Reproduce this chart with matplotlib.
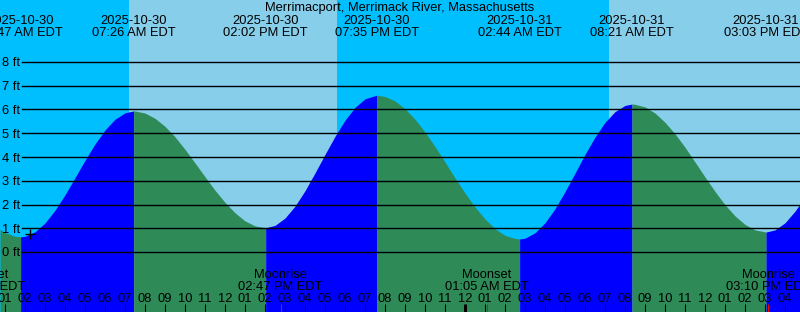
import numpy as np
import matplotlib
matplotlib.use('Agg')
import matplotlib.pyplot as plt

# hours since 2025-10-30 00:00 EDT, tide height in ft
tide_hours = np.array([
    0.75, 1.0, 1.5, 1.783, 2.0, 2.5, 3.0, 3.5, 4.0, 4.5, 5.0, 5.5, 6.0, 6.5, 7.0,
    7.433, 7.5, 8.0, 8.5, 9.0, 9.5, 10.0, 10.5, 11.0, 11.5, 12.0, 12.5, 13.0, 13.5,
    14.033, 14.5, 15.0, 15.5, 16.0, 16.5, 17.0, 17.5, 18.0, 18.5, 19.0,
    19.583, 20.0, 20.5, 21.0, 21.5, 22.0, 22.5, 23.0, 23.5, 24.0, 24.5, 25.0,
    25.5, 26.0, 26.5, 26.733, 27.0, 27.5, 28.0, 28.5, 29.0, 29.5, 30.0, 30.5,
    31.0, 31.5, 32.0, 32.35, 32.5, 33.0, 33.5, 34.0, 34.5, 35.0, 35.5, 36.0,
    36.5, 37.0, 37.5, 38.0, 38.5, 39.05, 39.5, 40.0, 40.5, 40.75])
tide_ft = np.array([
    0.95, 0.82, 0.66, 0.64, 0.66, 0.85, 1.22, 1.76, 2.41, 3.13, 3.86, 4.55, 5.14, 5.59, 5.86,
    5.94, 5.94, 5.85, 5.63, 5.29, 4.85, 4.32, 3.75, 3.17, 2.60, 2.09, 1.65, 1.31, 1.10,
    1.02, 1.12, 1.43, 1.93, 2.58, 3.33, 4.11, 4.87, 5.55, 6.09, 6.45,
    6.60, 6.55, 6.36, 6.03, 5.59, 5.05, 4.44, 3.79, 3.12, 2.48, 1.89, 1.39,
    0.98, 0.70, 0.57, 0.55, 0.58, 0.81, 1.23, 1.82, 2.54, 3.32, 4.11, 4.84,
    5.46, 5.91, 6.17, 6.23, 6.22, 6.11, 5.85, 5.46, 4.98, 4.41, 3.79, 3.16,
    2.55, 1.99, 1.52, 1.16, 0.93, 0.84, 0.93, 1.23, 1.72, 2.02])

extreme_hours = [1.783, 7.433, 14.033, 19.583, 26.733, 32.35, 39.05]
extreme_dates = ['2025-10-30'] * 4 + ['2025-10-31'] * 3
extreme_times = ['01:47 AM EDT', '07:26 AM EDT', '02:02 PM EDT', '07:35 PM EDT',
                 '02:44 AM EDT', '08:21 AM EDT', '03:03 PM EDT']

night_spans = [(0.75, 7.2), (17.6, 31.2)]
day_spans = [(7.2, 17.6), (31.2, 40.75)]

moon_hours = [-0.07, 14.783, 25.083, 39.167]
moon_names = ['Moonset', 'Moonrise', 'Moonset', 'Moonrise']
moon_times = ['11:56 PM EDT', '02:47 PM EDT', '01:05 AM EDT', '03:10 PM EDT']

hour_ticks = list(range(1, 41))
ft_levels = list(range(0, 9))
now_hour, now_ft = 2.25, 0.75

TITLE = 'Merrimacport, Merrimack River, Massachusetts'

NIGHT = '#00BFFF'
DAY = '#87CEEB'
RISING = '#0000FF'
FALLING = '#2E8B57'

W, H = 800, 312
FS = 9.3
plt.rcParams['font.family'] = ['Liberation Sans', 'DejaVu Sans']

fig = plt.figure(figsize=(W / 100, H / 100), dpi=100)
ax = fig.add_axes([0, 0, 1, 1])
ax.axis('off')
x0, x1 = 0.75, 40.75
px_per_ft = 23.75
ybot = -(H - 252) / px_per_ft
ytop = 252 / px_per_ft
ax.set_xlim(x0, x1)
ax.set_ylim(ybot, ytop)

for a, b in night_spans:
    ax.axvspan(a, b, color=NIGHT, lw=0, zorder=0)
for a, b in day_spans:
    ax.axvspan(a, b, color=DAY, lw=0, zorder=0)

# tide fill, split at highs/lows
bounds = [tide_hours[0]] + extreme_hours + [tide_hours[-1]]
for a, b in zip(bounds[:-1], bounds[1:]):
    m = (tide_hours >= a - 1e-9) & (tide_hours <= b + 1e-9)
    hh = tide_ft[m]
    col = RISING if hh[-1] > hh[0] else FALLING
    ax.fill_between(tide_hours[m], ybot, hh, color=col, lw=0, zorder=1)

for lv in ft_levels:
    ax.axhline(lv, xmin=22 / W, xmax=1, color='k', lw=1.0, zorder=2)
    ax.text(x0 + 20 / 20, lv - 4.5 / px_per_ft, f'{lv} ft', ha='right', va='baseline',
            fontsize=FS, zorder=3)

ax.plot(now_hour, now_ft, '+', color='k', ms=7, mew=1.0, zorder=4)

def frac(py):
    return 1 - py / H

tx = ax.get_xaxis_transform()
ax.text(0.5, frac(11), TITLE, transform=fig.transFigure, ha='center', va='baseline', fontsize=FS)
for t, d, s in zip(extreme_hours, extreme_dates, extreme_times):
    ax.text(t, frac(24), d, transform=tx, ha='center', va='baseline', fontsize=FS, zorder=3)
    ax.text(t, frac(36), s, transform=tx, ha='center', va='baseline', fontsize=FS, zorder=3)

for t, n, s in zip(moon_hours, moon_names, moon_times):
    ax.text(t, frac(278), n, transform=tx, ha='center', va='baseline', fontsize=FS, zorder=3)
    ax.text(t, frac(290.5), s, transform=tx, ha='center', va='baseline', fontsize=FS, zorder=3)

for hr in hour_ticks:
    ax.text(hr, frac(302), f'{(hr - 1) % 12 + 1:02d}', transform=tx, ha='center',
            va='baseline', fontsize=FS, zorder=3)
    lw = 2.2 if hr % 24 == 0 else 0.75
    ax.vlines(hr, 0, 8 / H, transform=tx, colors='k', lw=lw, zorder=3)
ax.vlines(moon_hours, 0, 8 / H, transform=tx, colors='red', lw=0.75, zorder=4)

fig.savefig('out.png', dpi=100)
